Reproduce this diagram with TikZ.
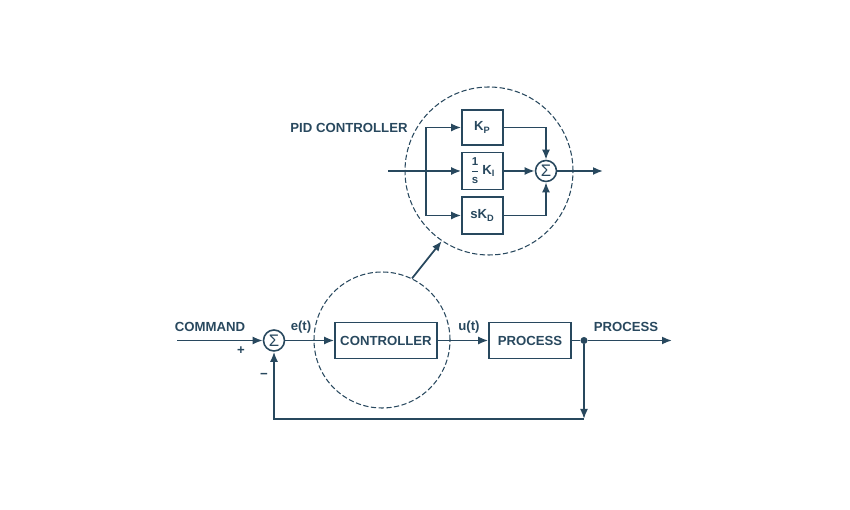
\documentclass[tikz,border=0pt]{standalone}
\usepackage{amsmath}
\usepackage{fontspec}
\setsansfont{Liberation Sans}
\usepackage{xcolor}
\usetikzlibrary{arrows.meta,positioning}
\definecolor{pidblue}{RGB}{40,72,94}

\begin{document}
\begin{tikzpicture}[
  font=\sffamily\bfseries\fontsize{7.5}{9}\selectfont, color=pidblue,
  block/.style={draw, line width=0.9pt, minimum height=0.72cm, inner sep=2pt},
  summer/.style={draw, circle, line width=0.9pt, minimum size=0.42cm, inner sep=0pt, font=\sffamily\fontsize{9.5}{9.5}\selectfont},
  zoomring/.style={draw, circle, dash pattern=on 3pt off 1.4pt, line width=0.6pt},
  flow/.style={-{Latex[length=2mm,width=1.6mm]}, line width=1pt},
  wire/.style={line width=1pt}
]
\useasboundingbox (0,0) rectangle (17,10.2);

% main loop
\node[zoomring, minimum size=2.72cm] (ring) at (7.64,3.40) {};
\coordinate (cmd) at (3.54,3.39);
\node[summer] (sum1) at (5.48,3.39) {Σ};
\node[block, minimum width=2.04cm] (ctrl) at (7.72,3.39) {CONTROLLER};
\node[block, minimum width=1.64cm] (proc) at (10.6,3.39) {PROCESS};
\node[circle, fill, inner sep=0pt, minimum size=4pt] (tap) at (11.68,3.39) {};
\coordinate (out) at (13.44,3.39);
\coordinate (fb) at (11.68,1.82);

\node (cmdlbl) at (4.2,3.66) {COMMAND};
\node (plus) at (4.82,3.18) {+};
\node (minus) at (5.28,2.68) {−};
\node (elbl) at (6.02,3.66) {e(t)};
\node (ulbl) at (9.38,3.66) {u(t)};
\node (outlbl) at (12.52,3.66) {PROCESS};

\draw[flow] (cmd) -- (sum1);
\draw[flow] (sum1) -- (ctrl);
\draw[flow] (ctrl) -- (proc);
\draw[wire] (proc) -- (tap);
\draw[flow] (tap) -- (out);
\draw[flow] (tap) -- (fb);
\draw[flow] (fb) -- (fb -| sum1) -- (sum1.south);

% PID detail
\node[zoomring, minimum size=3.36cm] (pidring) at (9.78,6.78) {};
\node (pidlbl) at (6.98,7.64) {PID CONTROLLER};
\coordinate (pidin) at (7.76,6.78);
\coordinate (split) at (8.52,6.78);
\node[block, minimum width=0.82cm, minimum height=0.70cm] (kp) at (9.65,7.65) {K\textsubscript{P}};
\node[block, minimum width=0.82cm, minimum height=0.74cm, inner sep=1pt] (ki) at (9.65,6.78) {$\displaystyle\frac{\text{\fontsize{6.5}{7}\selectfont 1}}{\text{\fontsize{6.5}{7}\selectfont s}}$\,K\textsubscript{I}};
\node[block, minimum width=0.82cm, minimum height=0.74cm] (kd) at (9.65,5.89) {sK\textsubscript{D}};
\node[summer] (sum2) at (10.92,6.78) {Σ};
\coordinate (pidout) at (12.06,6.78);

\draw[wire] (pidin) -- (split);
\draw[flow] (split) -- (ki);
\draw[flow] (split) |- (kp.west);
\draw[flow] (split) |- (kd.west);
\draw[flow] (kp.east) -| (sum2.north);
\draw[flow] (kd.east) -| (sum2.south);
\draw[flow] (ki) -- (sum2);
\draw[flow] (sum2) -- (pidout);

\draw[flow] (ring.64) -- (pidring.236);
\end{tikzpicture}
\end{document}
